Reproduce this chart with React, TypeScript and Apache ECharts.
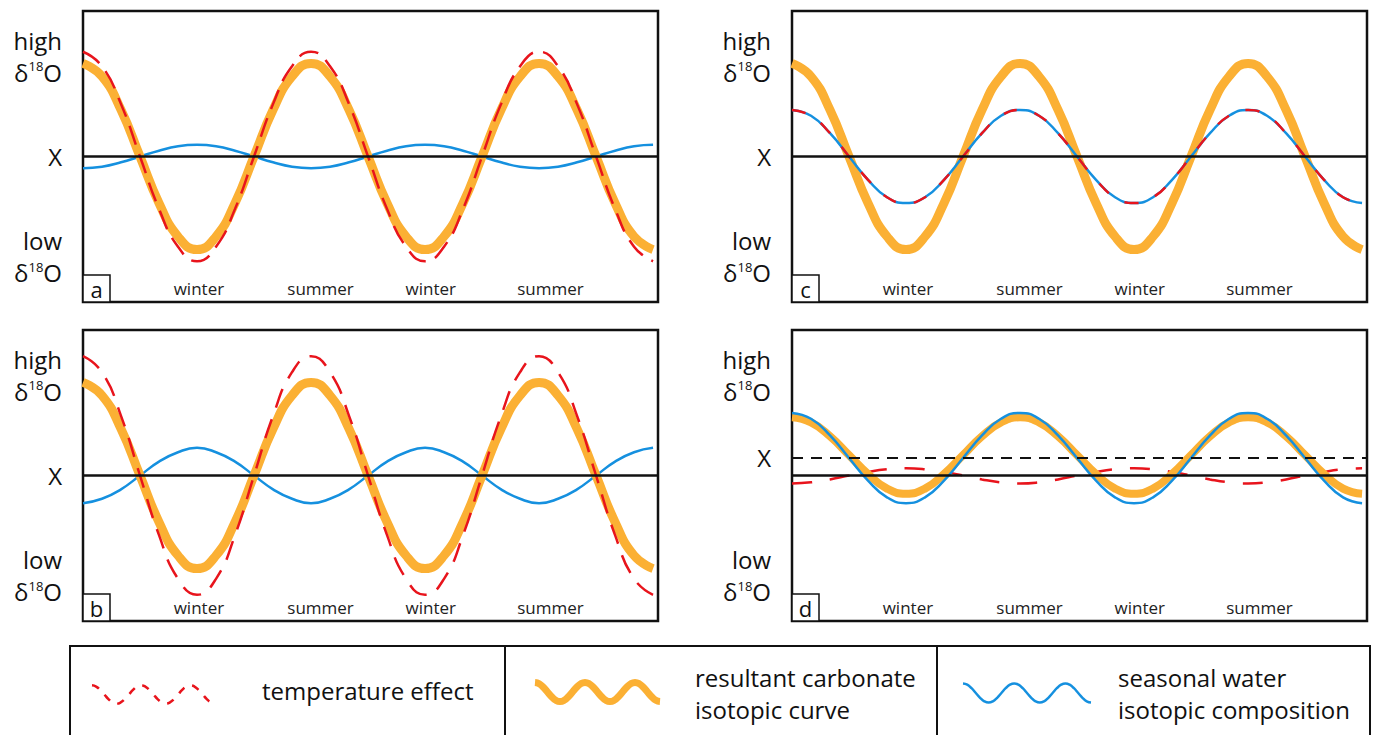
import React, { useEffect, useRef } from "react";
import * as echarts from "echarts";

// x positions (months; one seasonal cycle = 12)
const months = [0, 1, 2, 3, 4, 5, 6, 7, 8, 9, 10, 11, 12, 13, 14, 15, 16, 17, 18, 19, 20, 21, 22, 23, 24, 25, 26, 27, 28, 29, 30];

// Panel a
const aCarbonate = [6.4, 5.5, 3.2, 0, -3.2, -5.5, -6.4, -5.5, -3.2, 0, 3.2, 5.5, 6.4, 5.5, 3.2, 0, -3.2, -5.5, -6.4, -5.5, -3.2, 0, 3.2, 5.5, 6.4, 5.5, 3.2, 0, -3.2, -5.5, -6.4];
const aTemperature = [7.2, 6.2, 3.6, 0, -3.6, -6.2, -7.2, -6.2, -3.6, 0, 3.6, 6.2, 7.2, 6.2, 3.6, 0, -3.6, -6.2, -7.2, -6.2, -3.6, 0, 3.6, 6.2, 7.2, 6.2, 3.6, 0, -3.6, -6.2, -7.2];
const aWater = [-0.8, -0.7, -0.4, 0, 0.4, 0.7, 0.8, 0.7, 0.4, 0, -0.4, -0.7, -0.8, -0.7, -0.4, 0, 0.4, 0.7, 0.8, 0.7, 0.4, 0, -0.4, -0.7, -0.8, -0.7, -0.4, 0, 0.4, 0.7, 0.8];

// Panel b
const bCarbonate = [6.4, 5.5, 3.2, 0, -3.2, -5.5, -6.4, -5.5, -3.2, 0, 3.2, 5.5, 6.4, 5.5, 3.2, 0, -3.2, -5.5, -6.4, -5.5, -3.2, 0, 3.2, 5.5, 6.4, 5.5, 3.2, 0, -3.2, -5.5, -6.4];
const bTemperature = [8.2, 7.1, 4.1, 0, -4.1, -7.1, -8.2, -7.1, -4.1, 0, 4.1, 7.1, 8.2, 7.1, 4.1, 0, -4.1, -7.1, -8.2, -7.1, -4.1, 0, 4.1, 7.1, 8.2, 7.1, 4.1, 0, -4.1, -7.1, -8.2];
const bWater = [-1.9, -1.6, -0.95, 0, 0.95, 1.6, 1.9, 1.6, 0.95, 0, -0.95, -1.6, -1.9, -1.6, -0.95, 0, 0.95, 1.6, 1.9, 1.6, 0.95, 0, -0.95, -1.6, -1.9, -1.6, -0.95, 0, 0.95, 1.6, 1.9];

// Panel c
const cCarbonate = [6.4, 5.5, 3.2, 0, -3.2, -5.5, -6.4, -5.5, -3.2, 0, 3.2, 5.5, 6.4, 5.5, 3.2, 0, -3.2, -5.5, -6.4, -5.5, -3.2, 0, 3.2, 5.5, 6.4, 5.5, 3.2, 0, -3.2, -5.5, -6.4];
const cWater = [3.2, 2.8, 1.6, 0, -1.6, -2.8, -3.2, -2.8, -1.6, 0, 1.6, 2.8, 3.2, 2.8, 1.6, 0, -1.6, -2.8, -3.2, -2.8, -1.6, 0, 1.6, 2.8, 3.2, 2.8, 1.6, 0, -1.6, -2.8, -3.2];
const cTemperature = [3.2, 2.8, 1.6, 0, -1.6, -2.8, -3.2, -2.8, -1.6, 0, 1.6, 2.8, 3.2, 2.8, 1.6, 0, -1.6, -2.8, -3.2, -2.8, -1.6, 0, 1.6, 2.8, 3.2, 2.8, 1.6, 0, -1.6, -2.8, -3.2];

// Panel d
const dCarbonate = [4.0, 3.65, 2.7, 1.4, 0.1, -0.9, -1.25, -0.9, 0.1, 1.4, 2.7, 3.65, 4.0, 3.65, 2.7, 1.4, 0.1, -0.9, -1.25, -0.9, 0.1, 1.4, 2.7, 3.65, 4.0, 3.65, 2.7, 1.4, 0.1, -0.9, -1.25];
const dWater = [4.3, 3.9, 2.75, 1.2, -0.35, -1.5, -1.9, -1.5, -0.35, 1.2, 2.75, 3.9, 4.3, 3.9, 2.75, 1.2, -0.35, -1.5, -1.9, -1.5, -0.35, 1.2, 2.75, 3.9, 4.3, 3.9, 2.75, 1.2, -0.35, -1.5, -1.9];
const dTemperature = [-0.55, -0.47, -0.27, 0, 0.25, 0.43, 0.5, 0.43, 0.25, 0, -0.27, -0.47, -0.55, -0.47, -0.27, 0, 0.25, 0.43, 0.5, 0.43, 0.25, 0, -0.27, -0.47, -0.55, -0.47, -0.27, 0, 0.25, 0.43, 0.5];
const dBaselineX = 1.25;

// Legend icon wave
const legendWave = [1, 0.87, 0.5, 0, -0.5, -0.87, -1, -0.87, -0.5, 0, 0.5, 0.87, 1, 0.87, 0.5, 0, -0.5, -0.87, -1, -0.87, -0.5, 0, 0.5, 0.87, 1, 0.87, 0.5, 0, -0.5, -0.87, -1];

// Axis labels
const seasonTicks = [6.1, 12.5, 18.3, 24.6];
const seasonLabels = ["winter", "summer", "winter", "summer"];
const levelTicks = [6.9, 0, -6.9];
const levelTicksD = [6.9, dBaselineX, -6.9];
const panelLetters = ["a", "b", "c", "d"];

const ORANGE = "#FBB034";
const RED = "#E8141C";
const BLUE = "#1590DF";
const BLACK = "#111111";
const FONT = "Open Sans";

const pairs = (vals: number[]) => months.map((m, i) => [m, vals[i]]);

export default function App() {
  const ref = useRef<HTMLDivElement>(null);
  useEffect(() => {
    if (!ref.current) return;
    const chart = echarts.init(ref.current, null, { renderer: "svg" });

    const panelGrids = [
      { left: 83, top: 11, width: 575, height: 291 },
      { left: 83, top: 330, width: 575, height: 291 },
      { left: 792, top: 11, width: 575, height: 291 },
      { left: 792, top: 330, width: 575, height: 291 },
    ];
    const legendGrids = [
      { left: 92, top: 684, width: 123, height: 21 },
      { left: 535, top: 681, width: 125, height: 22 },
      { left: 963, top: 682, width: 128, height: 22 },
    ];

    const grid: any[] = [
      ...panelGrids.map((g) => ({ ...g, show: true, borderColor: BLACK, borderWidth: 2.5, backgroundColor: "transparent" })),
      ...legendGrids.map((g) => ({ ...g, show: false })),
    ];

    const richLevel = {
      t: { fontSize: 24, fontFamily: FONT, color: BLACK, lineHeight: 32 },
      s: { fontSize: 13, fontFamily: FONT, color: BLACK, lineHeight: 32, padding: [0, 0, 12, 0] },
    };
    const levelFormatter = (v: number) => {
      if (v > 3) return "{t|high}\n{t|δ}{s|18}{t|O}";
      if (v < -3) return "{t|low}\n{t|δ}{s|18}{t|O}";
      return "{t|X}";
    };

    const xAxis: any[] = [
      ...panelGrids.map((_, i) => ({
        type: "value",
        gridIndex: i,
        min: 0,
        max: 30.26,
        axisLine: { show: false },
        axisTick: { show: false },
        splitLine: { show: false },
        axisLabel: {
          inside: true,
          customValues: seasonTicks,
          margin: 5,
          fontSize: 17,
          fontFamily: FONT,
          color: "#222",
          formatter: (v: number) => {
            const idx = seasonTicks.findIndex((t) => Math.abs(t - v) < 1e-6);
            return idx >= 0 ? seasonLabels[idx] : "";
          },
        },
      })),
      ...legendGrids.map((_, i) => ({ type: "value", gridIndex: 4 + i, min: 0, max: 30, show: false })),
    ];

    const yAxis: any[] = [
      ...panelGrids.map((_, i) => ({
        type: "value",
        gridIndex: i,
        min: -10,
        max: 10,
        axisLine: { show: false },
        axisTick: { show: false },
        splitLine: { show: false },
        axisLabel: {
          customValues: i === 3 ? levelTicksD : levelTicks,
          margin: 21,
          align: "right",
          formatter: levelFormatter,
          rich: richLevel,
        },
      })),
      ...legendGrids.map((_, i) => ({ type: "value", gridIndex: 4 + i, min: -1.15, max: 1.15, show: false })),
    ];

    const line = (idx: number, vals: number[], color: string, width: number, type: any = "solid", z = 2, extra: any = {}) => ({
      type: "line",
      xAxisIndex: idx,
      yAxisIndex: idx,
      data: pairs(vals),
      smooth: true,
      showSymbol: false,
      symbol: "none",
      lineStyle: { color, width, type, cap: "butt" },
      z,
      silent: true,
      ...extra,
    });

    const baseLine = (extraData: any[] = []) => ({
      silent: true,
      symbol: ["none", "none"],
      label: { show: false },
      lineStyle: { color: BLACK, width: 2.5, type: "solid" },
      data: [{ yAxis: 0 }, ...extraData],
    });

    const series: any[] = [
      // a
      line(0, aWater, BLUE, 2.5, "solid", 2, { markLine: baseLine() }),
      line(0, aCarbonate, ORANGE, 9, "solid", 3),
      line(0, aTemperature, RED, 2.5, [20, 10], 4),
      // b
      line(1, bWater, BLUE, 2.5, "solid", 2, { markLine: baseLine() }),
      line(1, bCarbonate, ORANGE, 9, "solid", 3),
      line(1, bTemperature, RED, 2.5, [20, 12], 4),
      // c
      line(2, cCarbonate, ORANGE, 9, "solid", 2, { markLine: baseLine() }),
      line(2, cWater, BLUE, 2.5, "solid", 3),
      line(2, cTemperature, RED, 2.5, [14, 18], 4),
      // d
      line(3, dTemperature, RED, 2.5, [20, 18], 2, {
        markLine: baseLine([{ yAxis: dBaselineX, lineStyle: { color: BLACK, width: 2, type: [11, 8] } }]),
      }),
      line(3, dCarbonate, ORANGE, 8, "solid", 3),
      line(3, dWater, BLUE, 2.5, "solid", 4),
      // legend icons
      line(4, legendWave, RED, 2.5, [8, 8], 2),
      line(5, legendWave, ORANGE, 7, "solid", 2),
      line(6, legendWave, BLUE, 2.5, "solid", 2),
    ];

    const letterPos = [
      [83, 275],
      [83, 594],
      [792, 275],
      [792, 594],
    ];
    const graphic: any[] = [];
    letterPos.forEach(([x, y], i) => {
      graphic.push({
        type: "rect",
        shape: { x, y, width: 27, height: 27 },
        style: { fill: "#fff", stroke: BLACK, lineWidth: 1.5 },
        z: 10,
      });
      graphic.push({
        type: "text",
        x: x + 13.5,
        y: y + 14,
        style: { text: panelLetters[i], font: `22px '${FONT}'`, fill: BLACK, align: "center", verticalAlign: "middle" },
        z: 11,
      });
    });
    // legend boxes
    [
      [70, 505],
      [505, 937],
      [937, 1370],
    ].forEach(([x0, x1]) => {
      graphic.push({
        type: "rect",
        shape: { x: x0, y: 646, width: x1 - x0, height: 120 },
        style: { fill: "none", stroke: BLACK, lineWidth: 2 },
        z: 5,
      });
    });
    const legendTexts = [
      { x: 262, y: 690, text: "temperature effect" },
      { x: 695, y: 677, text: "resultant carbonate" },
      { x: 695, y: 709, text: "isotopic curve" },
      { x: 1118, y: 677, text: "seasonal water" },
      { x: 1118, y: 709, text: "isotopic composition" },
    ];
    legendTexts.forEach((t) =>
      graphic.push({
        type: "text",
        x: t.x,
        y: t.y,
        style: { text: t.text, font: `24px '${FONT}'`, fill: BLACK, align: "left", verticalAlign: "middle" },
        z: 6,
      })
    );

    chart.setOption({
      animation: false,
      backgroundColor: "#fff",
      grid,
      xAxis,
      yAxis,
      series,
      graphic,
    });
    return () => chart.dispose();
  }, []);

  return <div ref={ref} style={{ position: "fixed", left: 0, top: 0, width: 1379, height: 735 }} />;
}
